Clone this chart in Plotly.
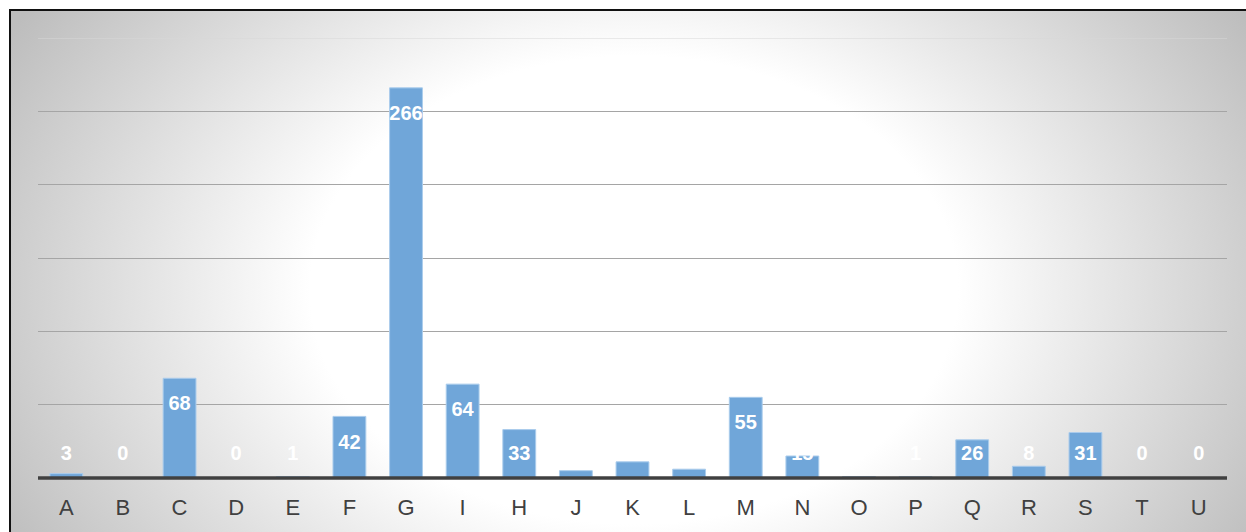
import base64
import plotly.graph_objects as go

categories = ["A", "B", "C", "D", "E", "F", "G", "I", "H", "J", "K",
              "L", "M", "N", "O", "P", "Q", "R", "S", "T", "U"]
values = [3, 0, 68, 0, 1, 42, 266, 64, 33, 5, 11, 6, 55, 15, 1, 1, 26, 8, 31, 0, 0]

W, H = 1246, 532
ML, MR, MT, MB = 38, 19, 38, 54
pw, ph = W - ML - MR, H - MT - MB

# label positions: inside end of bar, with a floor near the axis
label_y = [max(v - 18.5, 15.5) for v in values]

fig = go.Figure()
fig.add_trace(go.Bar(
    x=categories, y=values,
    marker=dict(color="rgb(112,166,217)",
                line=dict(color="rgb(170,204,236)", width=1)),
    hoverinfo="skip",
))
fig.add_trace(go.Scatter(
    x=categories, y=label_y, mode="text",
    text=[str(v) for v in values],
    textfont=dict(family="Liberation Sans, Arial", size=20,
                  color="white", weight="bold"),
    hoverinfo="skip",
))

# background: radial gradient with frame on top/left
bw, bh = W + 20 - 9, H + 20 - 9
svg = f'''<svg xmlns="http://www.w3.org/2000/svg" width="{bw}" height="{bh}" viewBox="0 0 {bw} {bh}">
<defs><radialGradient id="g" gradientUnits="userSpaceOnUse" cx="0" cy="0" r="1"
 gradientTransform="translate(625,281) scale(720,520)">
<stop offset="0" stop-color="#ffffff"/><stop offset="0.45" stop-color="#ffffff"/>
<stop offset="1" stop-color="#bdbdbd"/></radialGradient></defs>
<rect x="0" y="0" width="{bw}" height="{bh}" fill="url(#g)"/>
<rect x="1" y="1" width="{bw+10}" height="{bh+10}" fill="none" stroke="#111111" stroke-width="2"/>
</svg>'''
src = "data:image/svg+xml;base64," + base64.b64encode(svg.encode()).decode()

fig.add_layout_image(dict(
    source=src, xref="paper", yref="paper",
    x=(9 - ML) / pw, y=1 + (MT - 9) / ph,
    sizex=bw / pw, sizey=bh / ph,
    xanchor="left", yanchor="top", sizing="stretch", layer="below",
))

# top gridline (lighter)
fig.add_shape(type="line", xref="paper", yref="y", x0=0, x1=1, y0=300, y1=300,
              line=dict(color="rgb(215,215,215)", width=1), layer="below")
# axis base line
fig.add_shape(type="line", xref="paper", yref="paper", x0=0, x1=1, y0=0, y1=0,
              line=dict(color="#404040", width=3.5), layer="above")

fig.update_layout(
    width=W, height=H,
    margin=dict(l=ML, r=MR, t=MT, b=MB),
    paper_bgcolor="white", plot_bgcolor="rgba(0,0,0,0)",
    showlegend=False, bargap=0.42,
    font=dict(family="Liberation Sans, Arial", color="#404040"),
)
fig.update_xaxes(
    range=[-0.5, len(categories) - 0.5], automargin=False,
    showgrid=False, showline=False, ticks="outside", ticklen=10,
    tickcolor="rgba(0,0,0,0)",
    tickfont=dict(size=22, color="#404040", family="Liberation Sans, Arial"),
    fixedrange=True,
)
fig.update_yaxes(
    range=[0, 300], tickvals=[50, 100, 150, 200, 250], showticklabels=False,
    showgrid=True, gridcolor="rgb(165,165,165)", gridwidth=1,
    zeroline=False, showline=False, fixedrange=True, automargin=False,
)

fig.write_html("out.html", config={"displayModeBar": False})
